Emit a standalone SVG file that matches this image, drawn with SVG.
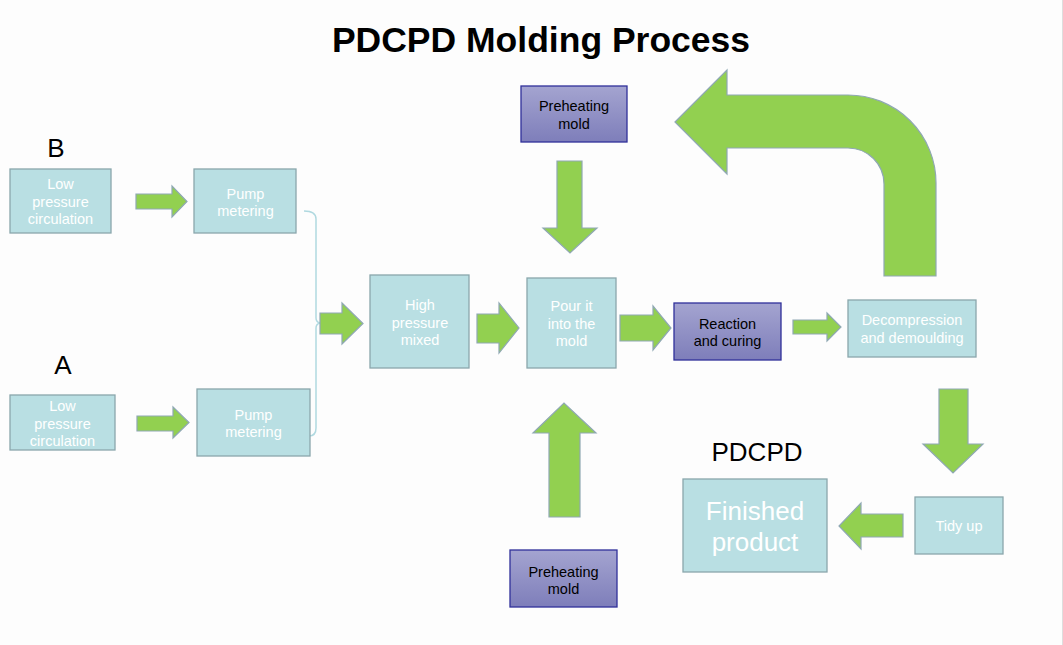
<svg xmlns="http://www.w3.org/2000/svg" width="1063" height="645" viewBox="0 0 1063 645">
<defs>
<linearGradient id="purp" x1="0" y1="0" x2="0" y2="1">
<stop offset="0" stop-color="#a4a4d0"/>
<stop offset="1" stop-color="#7e7eba"/>
</linearGradient>
<style>
.box{fill:#b9dfe3;stroke:#8aa7ac;stroke-width:1.3}
.pbox{fill:url(#purp);stroke:#30309a;stroke-width:1.3}
.arr{fill:#92d050;stroke:#8fa8b3;stroke-width:1.2;stroke-linejoin:miter}
.wt{font-family:"Liberation Sans",Arial,sans-serif;font-size:14.5px;fill:#ffffff;text-anchor:middle}
.bt{font-family:"Liberation Sans",Arial,sans-serif;font-size:14.5px;fill:#000000;text-anchor:middle}
.lbl{font-family:"Liberation Sans",Arial,sans-serif;font-size:26px;fill:#000000;text-anchor:middle}
</style>
</defs>
<rect x="0" y="0" width="1063" height="645" fill="#fdfdfd"/>
<line x1="1062.5" y1="0" x2="1062.5" y2="645" stroke="#dedede" stroke-width="1"/>

<text x="541" y="52" font-family="'Liberation Sans',Arial,sans-serif" font-size="35.5" font-weight="bold" text-anchor="middle" fill="#000">PDCPD Molding Process</text>
<text class="lbl" x="56" y="157">B</text>
<text class="lbl" x="63" y="374">A</text>
<text class="lbl" x="757" y="461">PDCPD</text>

<g id="connectors">
<path d="M304,211 Q316,211 316,219 L316,318 Q316,322 320,323 Q316,324 316,328 L316,428 Q316,436 309,436" fill="none" stroke="#b0d9e0" stroke-width="1.5"/>
<polygon class="arr" points="136,194 172,194 172,186 187,201.5 172,217 172,209 136,209"/>
<polygon class="arr" points="137,416 173,416 173,407 189,422.5 173,438 173,431 137,431"/>
<polygon class="arr" points="320,313 342,313 342,303 363,323.5 342,344 342,334 320,334"/>
<polygon class="arr" points="477,314 499,314 499,303 519,328 499,353 499,343 477,343"/>
<polygon class="arr" points="620,315 653,315 653,306 671,328 653,350 653,341 620,341"/>
<polygon class="arr" points="793,320 827,320 827,313 841,327 827,341 827,334 793,334"/>
<polygon class="arr" points="557,161 582,161 582,228 597,228 570,253 543,228 557,228"/>
<polygon class="arr" points="549,517 549,433 533,433 564,403 596,433 580,433 580,517"/>
<polygon class="arr" points="939,389 968,389 968,444 983,444 953,473 923,444 939,444"/>
<polygon class="arr" points="903,514 861,514 861,503 839,526 861,549 861,537 903,537"/>
<path class="arr" d="M675,122 L727,70 L727,95 L848,95 A88,88 0 0 1 936,183 L936,276 L884,276 L884,184 A36,36 0 0 0 848,148 L727,148 L727,174 Z"/>
</g>

<g id="lowB">
<rect class="box" x="10" y="169" width="101" height="64"/>
<text class="wt" x="60.5"><tspan x="60.5" y="189">Low</tspan><tspan x="60.5" y="206.5">pressure</tspan><tspan x="60.5" y="224">circulation</tspan></text>
</g>
<g id="pumpB">
<rect class="box" x="194" y="169" width="102" height="64"/>
<text class="wt"><tspan x="245.5" y="198.5">Pump</tspan><tspan x="245.5" y="215.5">metering</tspan></text>
</g>
<g id="lowA">
<rect class="box" x="10" y="395" width="105" height="55"/>
<text class="wt"><tspan x="62.5" y="411">Low</tspan><tspan x="62.5" y="428.5">pressure</tspan><tspan x="62.5" y="446">circulation</tspan></text>
</g>
<g id="pumpA">
<rect class="box" x="197" y="389" width="113" height="67"/>
<text class="wt"><tspan x="253.5" y="419.5">Pump</tspan><tspan x="253.5" y="437">metering</tspan></text>
</g>
<g id="highMix">
<rect class="box" x="370" y="275" width="99" height="93"/>
<text class="wt"><tspan x="420" y="310">High</tspan><tspan x="420" y="327.5">pressure</tspan><tspan x="420" y="345">mixed</tspan></text>
</g>
<g id="pour">
<rect class="box" x="527" y="278" width="89" height="90"/>
<text class="wt"><tspan x="571.5" y="311">Pour it</tspan><tspan x="571.5" y="328.5">into the</tspan><tspan x="571.5" y="346">mold</tspan></text>
</g>
<g id="reaction">
<rect class="pbox" x="674" y="303" width="107" height="57"/>
<text class="bt"><tspan x="727.5" y="328.5">Reaction</tspan><tspan x="727.5" y="346">and curing</tspan></text>
</g>
<g id="decomp">
<rect class="box" x="848" y="300" width="128" height="57"/>
<text class="wt"><tspan x="912" y="325">Decompression</tspan><tspan x="912" y="343">and demoulding</tspan></text>
</g>
<g id="preheatTop">
<rect class="pbox" x="521" y="86" width="106" height="56"/>
<text class="bt"><tspan x="574" y="111">Preheating</tspan><tspan x="574" y="128.5">mold</tspan></text>
</g>
<g id="preheatBottom">
<rect class="pbox" x="510" y="550" width="107" height="57"/>
<text class="bt"><tspan x="563.5" y="577">Preheating</tspan><tspan x="563.5" y="594">mold</tspan></text>
</g>
<g id="tidy">
<rect class="box" x="915" y="497" width="88" height="57"/>
<text class="wt" x="959" y="531">Tidy up</text>
</g>
<g id="finished">
<rect class="box" x="683" y="479" width="144" height="93"/>
<text class="wt" style="font-size:26px"><tspan x="755" y="519.5">Finished</tspan><tspan x="755" y="551">product</tspan></text>
</g>
</svg>
